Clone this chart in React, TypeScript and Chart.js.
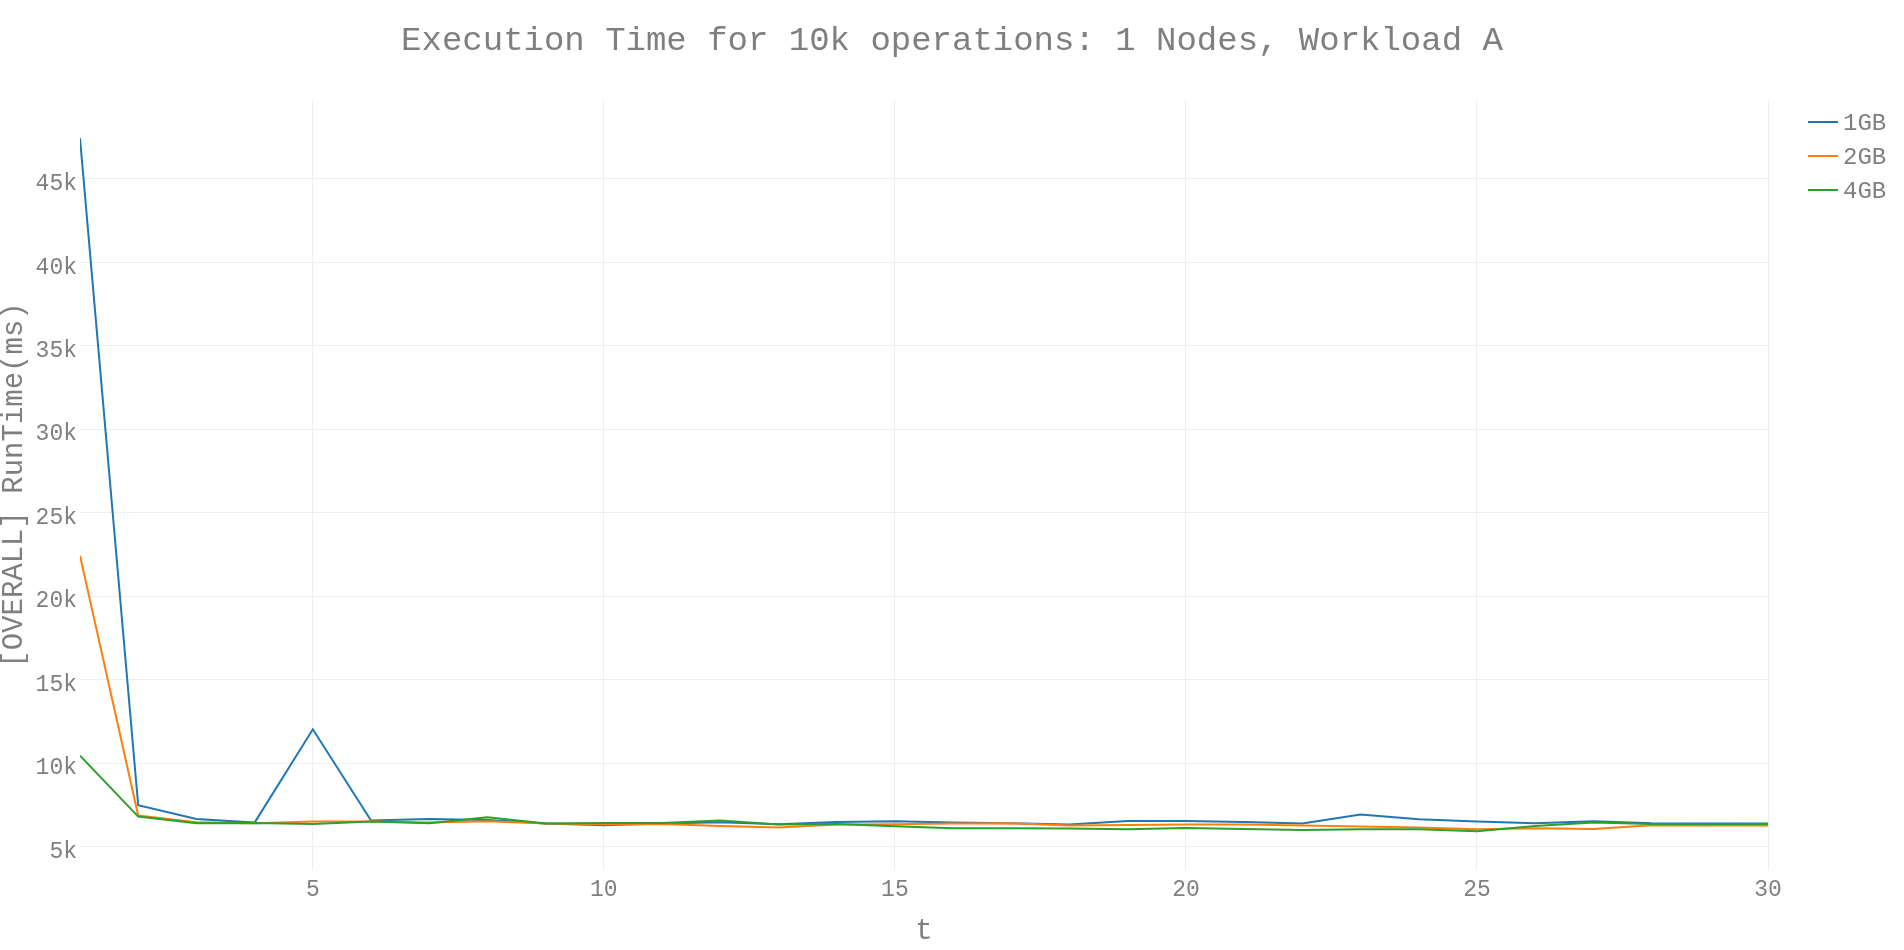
import React, { useEffect, useRef } from "react";
import { Chart, registerables } from "chart.js";

Chart.register(...registerables);

const titleText = "Execution Time for 10k operations: 1 Nodes, Workload A";
const xTitle = "t";
const yTitle = "[OVERALL] RunTime(ms)";

const tValues = [1, 2, 3, 4, 5, 6, 7, 8, 9, 10, 11, 12, 13, 14, 15, 16, 17, 18, 19, 20, 21, 22, 23, 24, 25, 26, 27, 28, 29, 30];

const series1GB = [47440, 7480, 6660, 6440, 12030, 6560, 6660, 6600, 6380, 6280, 6380, 6460, 6340, 6480, 6520, 6440, 6400, 6320, 6540, 6540, 6480, 6380, 6920, 6640, 6500, 6400, 6520, 6400, 6380, 6380];
const series2GB = [22430, 6860, 6460, 6400, 6500, 6500, 6440, 6520, 6380, 6340, 6360, 6230, 6140, 6320, 6340, 6380, 6400, 6260, 6300, 6320, 6320, 6260, 6200, 6140, 6040, 6100, 6060, 6280, 6260, 6260];
const series4GB = [10450, 6800, 6400, 6420, 6360, 6500, 6400, 6760, 6380, 6420, 6420, 6570, 6320, 6360, 6220, 6100, 6100, 6080, 6040, 6120, 6060, 6000, 6040, 6040, 5920, 6240, 6440, 6360, 6340, 6360];

const seriesLabels = ["1GB", "2GB", "4GB"];
const seriesColors = ["#1f77b4", "#ff7f0e", "#2ca02c"];

const xTicks = [5, 10, 15, 20, 25, 30];
const yTicks = [5000, 10000, 15000, 20000, 25000, 30000, 35000, 40000, 45000];

const FONT = "'Liberation Mono', 'DejaVu Sans Mono', monospace";
const TEXT = "#7f7f7f";
const GRID = "#eeeeee";

const titleAndLegendPlugin = {
  id: "titleAndLegend",
  afterDraw(chart: any) {
    const ctx = chart.ctx;
    ctx.save();
    ctx.fillStyle = TEXT;
    ctx.font = `34px ${FONT}`;
    ctx.textAlign = "center";
    ctx.textBaseline = "middle";
    ctx.fillText(titleText, chart.width / 2, 41);
    chart.data.datasets.forEach((ds: any, i: number) => {
      const y = 122 + i * 34;
      ctx.strokeStyle = ds.borderColor;
      ctx.lineWidth = 2;
      ctx.beginPath();
      ctx.moveTo(1808, y);
      ctx.lineTo(1838, y);
      ctx.stroke();
      ctx.fillStyle = TEXT;
      ctx.font = `24px ${FONT}`;
      ctx.textBaseline = "middle";
      ctx.textAlign = "left";
      ctx.fillText(ds.label, 1843, y + 2);
    });
    ctx.restore();
  },
};

export default function App() {
  const ref = useRef<HTMLCanvasElement | null>(null);
  useEffect(() => {
    if (!ref.current) return;
    const all = [series1GB, series2GB, series4GB];
    const chart = new Chart(ref.current, {
      type: "line",
      data: {
        datasets: all.map((s, i) => ({
          label: seriesLabels[i],
          data: s.map((v, j) => ({ x: tValues[j], y: v })),
          borderColor: seriesColors[i],
          backgroundColor: seriesColors[i],
          borderWidth: 2,
          pointRadius: 0,
          tension: 0,
          fill: false,
          order: all.length - 1 - i,
        })),
      },
      options: {
        responsive: false,
        animation: false,
        devicePixelRatio: 1,
        layout: { padding: { left: 0, right: 136, top: 100, bottom: 0 } },
        plugins: {
          legend: { display: false },
          tooltip: { enabled: false },
          title: { display: false },
        },
        scales: {
          x: {
            type: "linear",
            min: 1,
            max: 30,
            afterFit: (axis: any) => {
              axis.height = 80;
            },
            afterBuildTicks: (axis: any) => {
              axis.ticks = xTicks.map((v) => ({ value: v }));
            },
            grid: { color: GRID, lineWidth: 1, drawTicks: false },
            border: { display: false },
            ticks: {
              color: TEXT,
              font: { family: FONT, size: 23 },
              padding: 6,
              maxRotation: 0,
              callback: (v: any) => String(v),
            },
            title: {
              display: true,
              text: xTitle,
              color: TEXT,
              font: { family: FONT, size: 29, lineHeight: 1 },
              padding: { top: 0, bottom: 4 },
            },
          },
          y: {
            type: "linear",
            min: 3600,
            max: 49730,
            afterFit: (axis: any) => {
              axis.width = 80;
            },
            afterBuildTicks: (axis: any) => {
              axis.ticks = yTicks.map((v) => ({ value: v }));
            },
            grid: { color: GRID, lineWidth: 1, drawTicks: false },
            border: { display: false },
            ticks: {
              color: TEXT,
              font: { family: FONT, size: 23 },
              padding: 3,
              labelOffset: 5,
              callback: (v: any) => `${Number(v) / 1000}k`,
            },
            title: {
              display: true,
              text: yTitle,
              color: TEXT,
              font: { family: FONT, size: 29, lineHeight: 1 },
              padding: { top: 0, bottom: 0 },
            },
          },
        },
      },
      plugins: [titleAndLegendPlugin],
    } as any);
    return () => chart.destroy();
  }, []);
  return (
    <div style={{ position: "absolute", left: 0, top: 0, width: 1904, height: 950, background: "#fff" }}>
      <canvas ref={ref} width={1904} height={950} style={{ display: "block" }} />
    </div>
  );
}
